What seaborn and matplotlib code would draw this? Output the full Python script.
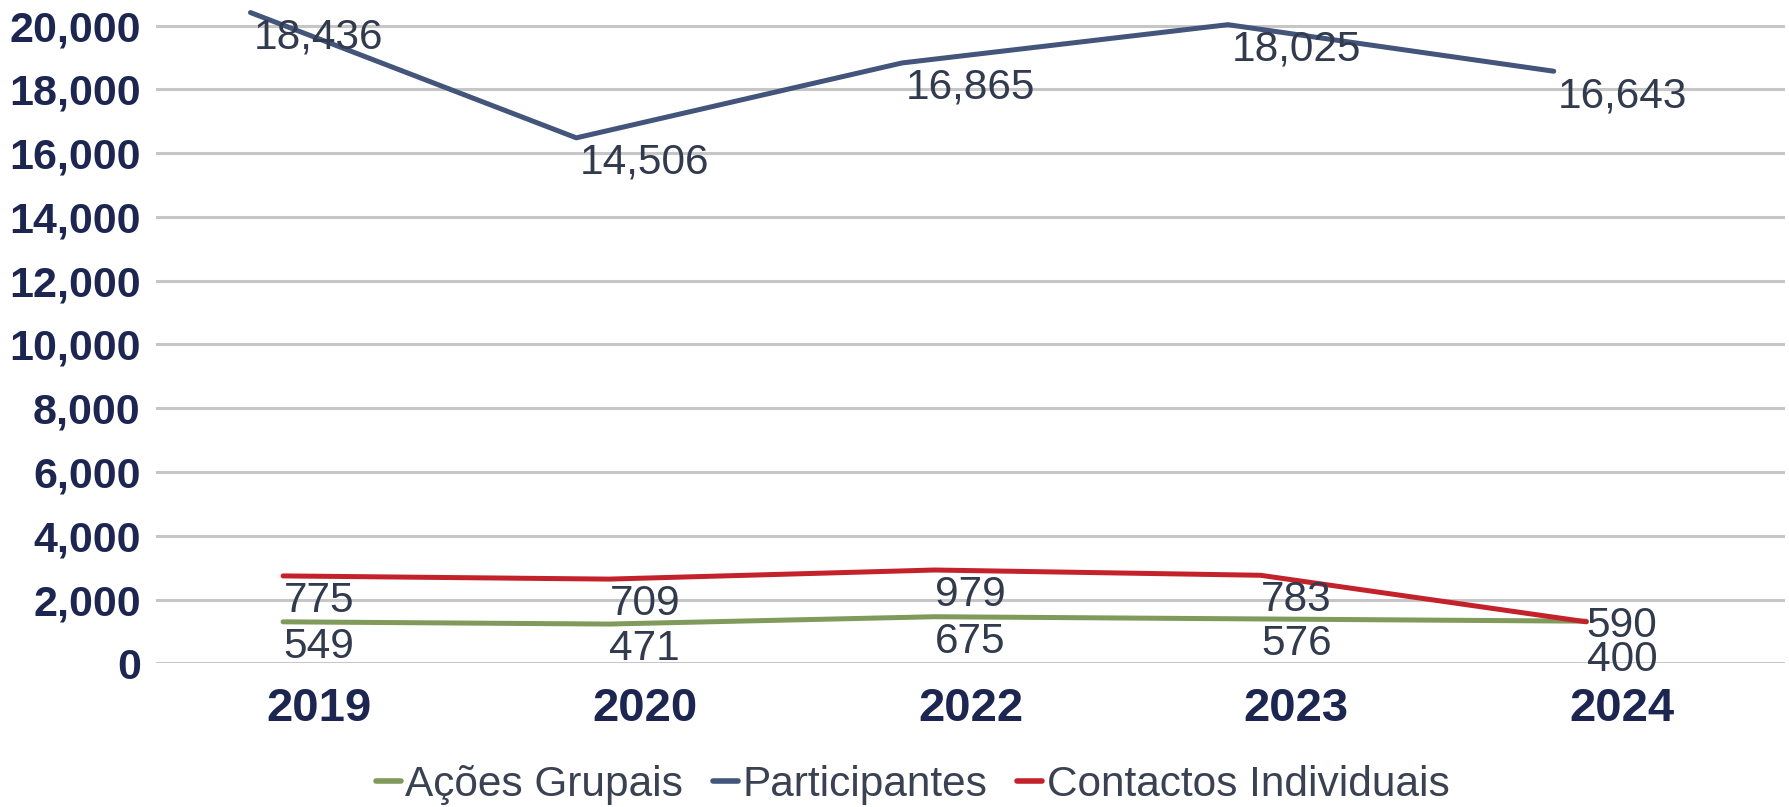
import pandas as pd
import matplotlib.pyplot as plt
import seaborn as sns
from matplotlib import font_manager

ARQUIVO_SAIDA = "out.png"

# Dados
anos = ["2019", "2020", "2022", "2023", "2024"]
series = ["Ações Grupais", "Participantes", "Contactos Individuais"]

# posição das linhas (valores no eixo)
acoes_linha = [1300, 1230, 1460, 1390, 1320]
participantes_linha = [20410, 16480, 18830, 20030, 18570]
contactos_linha = [2740, 2640, 2925, 2760, 1300]

# rótulos de dados mostrados
acoes_rotulos = [549, 471, 675, 576, 400]
participantes_rotulos = [18436, 14506, 16865, 18025, 16643]
contactos_rotulos = [775, 709, 979, 783, 590]

CORES = {"Ações Grupais": "#7F9A5A", "Participantes": "#43557A", "Contactos Individuais": "#C4222B"}
DESLOC_X = {"Ações Grupais": -0.11, "Participantes": -0.21, "Contactos Individuais": -0.11}


def gerar_grafico():
    sns.set_theme(style="whitegrid")
    plt.rcParams["font.family"] = ["Liberation Sans", "DejaVu Sans"]

    nomes = {f.name for f in font_manager.fontManager.ttflist}
    fonte_anos = "Liberation Sans Narrow" if "Liberation Sans Narrow" in nomes else "Liberation Sans"
    tam_anos = 40 if fonte_anos == "Liberation Sans Narrow" else 34

    linhas = {"Ações Grupais": acoes_linha, "Participantes": participantes_linha,
              "Contactos Individuais": contactos_linha}
    rotulos = {"Ações Grupais": acoes_rotulos, "Participantes": participantes_rotulos,
               "Contactos Individuais": contactos_rotulos}

    # formato longo para o seaborn
    registros = []
    for s in series:
        for i, ano in enumerate(anos):
            registros.append({"pos": i + DESLOC_X[s], "ano": ano, "valor": linhas[s][i],
                              "serie": s, "rotulo": rotulos[s][i], "idx": i})
    df = pd.DataFrame(registros)

    fig = plt.figure(figsize=(17.89, 8.07), dpi=100)
    ax = fig.add_axes([0.0872, 0.1781, 0.9106, 0.8178])

    sns.lineplot(data=df, x="pos", y="valor", hue="serie", hue_order=series,
                 palette=CORES, linewidth=3.6, ax=ax, legend=True, clip_on=False)

    # rótulos abaixo de cada ponto
    ajuste = {("Contactos Individuais", 4): -3, ("Ações Grupais", 4): -28}
    for _, r in df.iterrows():
        dy = ajuste.get((r["serie"], r["idx"]), -18)
        ax.annotate(f"{r['rotulo']:,}", xy=(r["idx"], r["valor"]), xytext=(0, dy),
                    textcoords="offset points", ha="center", va="center",
                    fontsize=30.5, color="#323A4E")

    ax.set_xlim(-0.5, 4.5)
    ax.set_ylim(0, 20700)
    ax.set_yticks(range(0, 20001, 2000))
    ax.set_yticklabels([f"{v:,}" for v in range(0, 20001, 2000)],
                       fontsize=31, fontweight="bold", color="#1C2650")
    ax.set_xticks(range(len(anos)))
    ax.set_xticklabels(anos, fontsize=tam_anos, fontweight="bold", color="#1C2650",
                       family=[fonte_anos, "DejaVu Sans"])
    ax.tick_params(axis="y", length=0, pad=11)
    ax.tick_params(axis="x", length=0, pad=17)
    ax.set_xlabel("")
    ax.set_ylabel("")

    ax.grid(False)
    ax.yaxis.grid(True, color="#C6C6C6", linewidth=2.2)
    for sp in ax.spines.values():
        sp.set_visible(False)

    handles, labels = ax.get_legend_handles_labels()
    ax.legend_.remove()
    leg = fig.legend(handles, labels, loc="center", bbox_to_anchor=(0.51, 0.027), ncol=3,
                     frameon=False, fontsize=30.5, handlelength=0.6, handletextpad=0.1,
                     columnspacing=0.7, borderaxespad=0)
    for t in leg.get_texts():
        t.set_color("#3A4152")
    for h in leg.get_lines():
        h.set_linewidth(4)

    fig.savefig(ARQUIVO_SAIDA, dpi=100)
    plt.close(fig)


if __name__ == "__main__":
    gerar_grafico()
